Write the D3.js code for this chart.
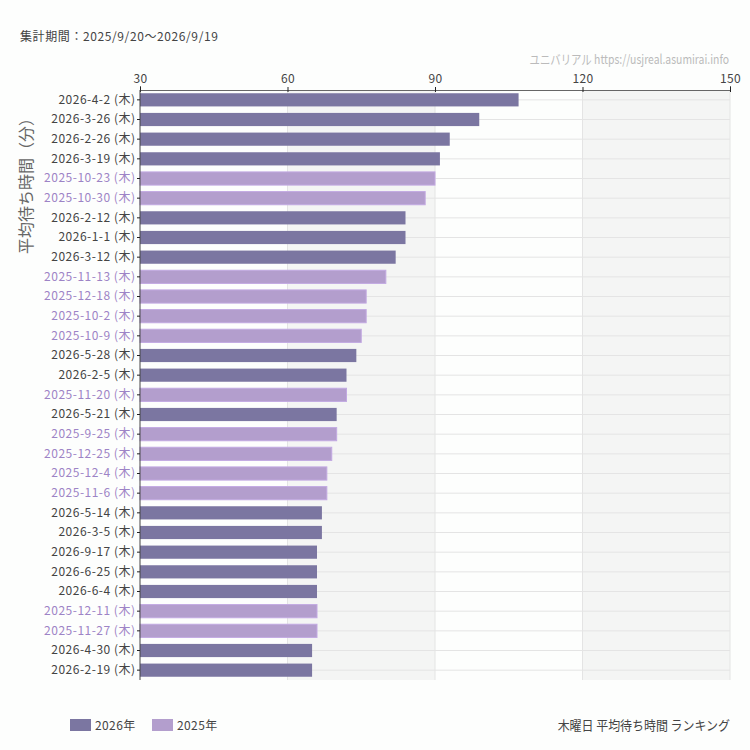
<!DOCTYPE html>
<html><head><meta charset="utf-8">
<script src="https://cdn.jsdelivr.net/npm/d3@7"></script>
<style>
html,body{margin:0;padding:0;background:#fdfefd;}
svg{display:block;font-family:"Noto Sans CJK JP","Noto Sans",sans-serif;}
</style></head>
<body>
<svg id="chart" width="750" height="750"></svg>
<script>
const dates = ["2026-4-2","2026-3-26","2026-2-26","2026-3-19","2025-10-23","2025-10-30","2026-2-12","2026-1-1","2026-3-12","2025-11-13","2025-12-18","2025-10-2","2025-10-9","2026-5-28","2026-2-5","2025-11-20","2026-5-21","2025-9-25","2025-12-25","2025-12-4","2025-11-6","2026-5-14","2026-3-5","2026-9-17","2026-6-25","2026-6-4","2025-12-11","2025-11-27","2026-4-30","2026-2-19"];
const waits = [107,99,93,91,90,88,84,84,82,80,76,76,75,74,72,72,70,70,69,68,68,67,67,66,66,66,66,66,65,65];
const xTicks = [30,60,90,120,150];
const years = ["2026年","2025年"];
const dayLabel = " (木)";

const col2026 = "#7b76a1", col2025 = "#b39ecd", stroke2025 = "#c2a9e2";
const lab2026 = "#444", lab2025 = "#9d84c6";
const FONT = "'Noto Sans CJK JP',sans-serif";

const svg = d3.select("#chart");
const L=140, R=730, T=90, B=680;
const x = d3.scaleLinear().domain([30,150]).range([L,R]);
const y = d3.scaleBand().domain(dates).range([T,B]).paddingInner(0.33).paddingOuter(0.165);
const is25 = d => d.startsWith("2025");

// header text
svg.append("text").attr("x",20).attr("y",41).attr("font-size",12).attr("fill","#444").attr("font-family",FONT)
  .attr("letter-spacing",0.6).text("集計期間：2025/9/20〜2026/9/19");
svg.append("text").attr("x",729).attr("y",64).attr("text-anchor","end").attr("font-size",13).attr("fill","#bbb")
  .attr("font-family",FONT)
  .attr("transform","translate(729,0) scale(0.8,1) translate(-729,0)")
  .text("ユニバリアル  https://usjreal.asumirai.info");

// shaded bands
const bands = [[60,90],[120,150]];
svg.append("g").selectAll("rect").data(bands).join("rect")
  .attr("x",d=>x(d[0])).attr("width",d=>x(d[1])-x(d[0])).attr("y",T).attr("height",B-T).attr("fill","#f4f5f4");

// vertical grid
svg.append("g").selectAll("line").data(xTicks.slice(1)).join("line")
  .attr("x1",d=>x(d)).attr("x2",d=>x(d)).attr("y1",T).attr("y2",B).attr("stroke","#e4e4e4").attr("stroke-width",1);

// horizontal grid at category centers
svg.append("g").selectAll("line").data(dates).join("line")
  .attr("x1",L).attr("x2",R).attr("y1",d=>y(d)+y.bandwidth()/2).attr("y2",d=>y(d)+y.bandwidth()/2)
  .attr("stroke","#e4e4e4").attr("stroke-width",1);

// bars
svg.append("g").selectAll("rect").data(dates).join("rect")
  .attr("x",x(30)).attr("y",d=>y(d))
  .attr("width",(d,i)=>x(waits[i])-x(30)).attr("height",y.bandwidth())
  .attr("fill",d=>is25(d)?col2025:col2026)
  .attr("stroke",d=>is25(d)?stroke2025:"none").attr("stroke-width",1);

// top axis
const xAxis = d3.axisTop(x).tickValues(xTicks).tickSize(4).tickPadding(3);
const gx = svg.append("g").attr("transform",`translate(0,${T})`).call(xAxis);
gx.select(".domain").attr("stroke","#666");
gx.selectAll(".tick line").attr("stroke","#222").attr("y2",-3).attr("y1",2);
gx.selectAll(".tick text").attr("font-size",12).attr("fill","#444").attr("font-family",FONT).attr("letter-spacing",0.4);

// left axis
const yAxis = d3.axisLeft(y).tickSize(3).tickPadding(1.5).tickFormat(d=>d+dayLabel);
const gy = svg.append("g").attr("transform",`translate(${L},0)`).call(yAxis);
gy.select(".domain").attr("stroke","#444").attr("d",`M0,${T}V${B}`);
gy.selectAll(".tick line").attr("stroke","#222");
gy.selectAll(".tick text").attr("font-size",12).attr("letter-spacing",0.5)
  .attr("fill",d=>is25(d)?lab2025:lab2026).attr("font-family",FONT);

// y title
svg.append("text").attr("transform","translate(32,182) rotate(-90)").attr("text-anchor","middle")
  .attr("font-size",16).attr("fill","#666").attr("font-family",FONT).text("平均待ち時間（分）");

// legend
const leg = svg.append("g");
const legX = [70,152];
years.forEach((t,i)=>{
  leg.append("rect").attr("x",legX[i]).attr("y",719).attr("width",21).attr("height",12).attr("fill",i===0?col2026:col2025);
  leg.append("text").attr("x",legX[i]+25).attr("y",730).attr("font-size",12).attr("fill","#444")
    .attr("font-family",FONT).attr("letter-spacing",0.4).text(t);
});
svg.append("text").attr("x",730).attr("y",730).attr("text-anchor","end").attr("font-size",13).attr("fill","#444")
  .attr("font-family",FONT)
  .attr("transform","translate(730,0) scale(0.92,1) translate(-730,0)")
  .text("木曜日 平均待ち時間 ランキング");
</script>
</body></html>
